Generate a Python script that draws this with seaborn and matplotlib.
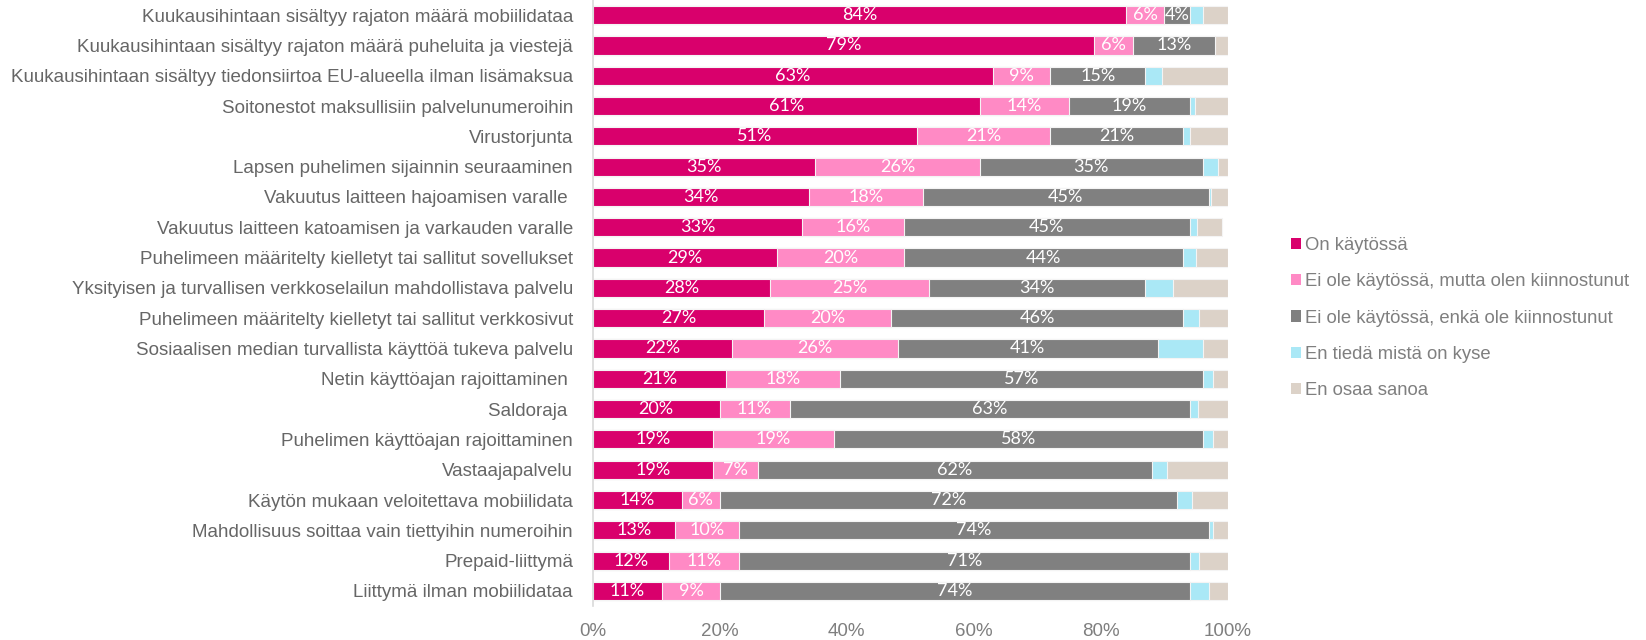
import pandas as pd
import matplotlib
matplotlib.use('Agg')
import matplotlib.pyplot as plt
import seaborn as sns
from matplotlib.patches import Patch

categories = [
    'Kuukausihintaan sisältyy rajaton määrä mobiilidataa',
    'Kuukausihintaan sisältyy rajaton määrä puheluita ja viestejä',
    'Kuukausihintaan sisältyy tiedonsiirtoa EU-alueella ilman lisämaksua',
    'Soitonestot maksullisiin palvelunumeroihin',
    'Virustorjunta',
    'Lapsen puhelimen sijainnin seuraaminen',
    'Vakuutus laitteen hajoamisen varalle ',
    'Vakuutus laitteen katoamisen ja varkauden varalle',
    'Puhelimeen määritelty kielletyt tai sallitut sovellukset',
    'Yksityisen ja turvallisen verkkoselailun mahdollistava palvelu',
    'Puhelimeen määritelty kielletyt tai sallitut verkkosivut',
    'Sosiaalisen median turvallista käyttöä tukeva palvelu',
    'Netin käyttöajan rajoittaminen ',
    'Saldoraja ',
    'Puhelimen käyttöajan rajoittaminen',
    'Vastaajapalvelu',
    'Käytön mukaan veloitettava mobiilidata',
    'Mahdollisuus soittaa vain tiettyihin numeroihin',
    'Prepaid-liittymä',
    'Liittymä ilman mobiilidataa',
]

on_kaytossa = [84, 79, 63, 61, 51, 35, 34, 33, 29, 28, 27, 22, 21, 20, 19, 19, 14, 13, 12, 11]
kiinnostunut = [6, 6, 9, 14, 21, 26, 18, 16, 20, 25, 20, 26, 18, 11, 19, 7, 6, 10, 11, 9]
ei_kiinnostunut = [4, 13, 15, 19, 21, 35, 45, 45, 44, 34, 46, 41, 57, 63, 58, 62, 72, 74, 71, 74]
en_tieda = [2, 0, 2.7, 0.8, 1, 2.5, 0.4, 1.1, 2, 4.4, 2.4, 7, 1.7, 1.3, 1.7, 2.4, 2.4, 0.7, 1.4, 3]
en_osaa = [4, 2, 10.3, 5.2, 6, 1.5, 2.6, 3.9, 5, 8.6, 4.6, 4, 2.3, 4.7, 2.3, 9.6, 5.6, 2.3, 4.6, 3]

series_names = ['On käytössä', 'Ei ole käytössä, mutta olen kiinnostunut',
                'Ei ole käytössä, enkä ole kiinnostunut', 'En tiedä mistä on kyse',
                'En osaa sanoa']
colors = ['#D9006C', '#FF8AC5', '#808080', '#AAE8F6', '#DCD2C8']

df = pd.DataFrame({
    'kategoria': categories,
    series_names[0]: on_kaytossa,
    series_names[1]: kiinnostunut,
    series_names[2]: ei_kiinnostunut,
    series_names[3]: en_tieda,
    series_names[4]: en_osaa,
})
cum = df[series_names].cumsum(axis=1)

sns.set_style('white')
plt.rcParams['font.family'] = ['Liberation Sans', 'DejaVu Sans']

fig, ax = plt.subplots(figsize=(16.46, 6.4), dpi=100)
fig.subplots_adjust(left=0.36, right=0.746, top=1.0, bottom=0.053)

# draw cumulative bars from the last series backwards so they stack
for name, col in reversed(list(zip(series_names, colors))):
    sns.barplot(x=cum[name], y=df['kategoria'], color=col, orient='h', saturation=1,
                width=0.6, edgecolor='#f4f4f4', linewidth=0.8, ax=ax)

# value labels for the first three series
for name in series_names[:3]:
    for i, v in enumerate(df[name]):
        if v >= 3:
            ax.text(cum[name][i] - v / 2, i, f'{v:.0f}%', ha='center', va='center',
                    color='white', fontsize=13, family=['Lato', 'DejaVu Sans'])

ax.set_xlim(0, 100)
ax.set_ylim(19.5, -0.5)
ax.set_xticks([0, 20, 40, 60, 80, 100])
ax.set_xticklabels([f'{t}%' for t in [0, 20, 40, 60, 80, 100]])
ax.set_xlabel('')
ax.set_ylabel('')
ax.tick_params(axis='x', colors='#7f7f7f', labelsize=13.5, length=0, pad=12)
ax.tick_params(axis='y', colors='#666666', labelsize=13.5, length=0, pad=14)
for s in ['top', 'right', 'bottom']:
    ax.spines[s].set_visible(False)
ax.spines['left'].set_color('#d9d9d9')
ax.spines['left'].set_linewidth(1.2)

handles = [Patch(facecolor=c, edgecolor='none', label=n) for n, c in zip(series_names, colors)]
leg = fig.legend(handles=handles, loc='center left', bbox_to_anchor=(0.774, 0.503),
                 frameon=False, fontsize=13.3, handlelength=0.55, handleheight=0.55,
                 handletextpad=0.25, labelspacing=1.05, labelcolor='#7f7f7f')

fig.savefig('out.png', dpi=100)
